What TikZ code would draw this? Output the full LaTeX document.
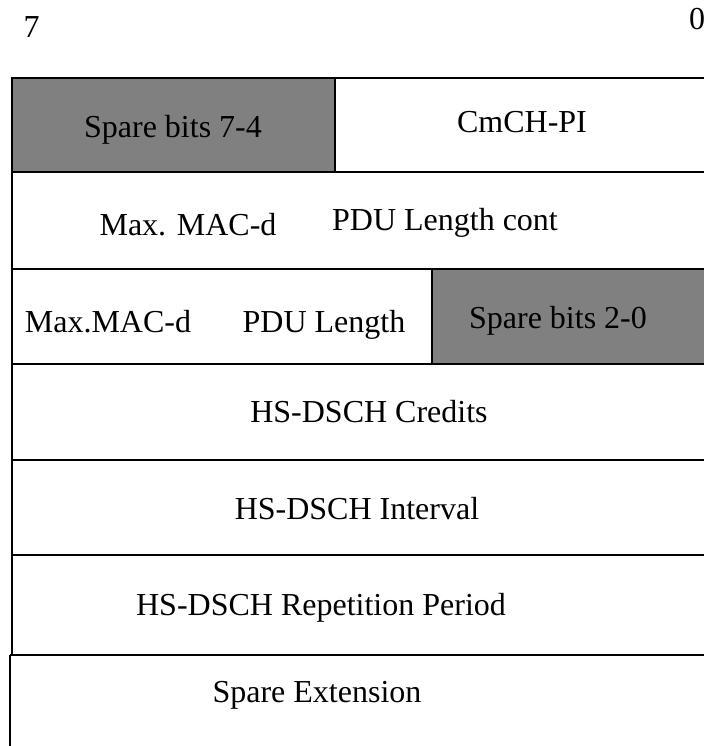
\documentclass[tikz,border=0pt]{standalone}
\usepackage{fontspec}
\setmainfont{Liberation Serif}
\definecolor{fieldgray}{RGB}{128,128,128}
\tikzset{
  lbl/.style={inner sep=0pt, anchor=base, font=\fontsize{32}{38}\selectfont},
  rule/.style={line width=2.2pt, black}
}
\begin{document}
\begin{tikzpicture}[x=1pt,y=-1pt]
\useasboundingbox (0,0) rectangle (704,746);
% shaded fields
\fill[fieldgray] (12,78) rectangle (335,172);
\fill[fieldgray] (432,269) rectangle (704,364);
% horizontal rules
\foreach \yy in {78,172,269,364,460,555} {\draw[rule] (12,\yy) -- (704,\yy);}
\draw[rule] (10,655) -- (704,655);
% left border
\draw[rule] (12,77) -- (12,655);
\draw[rule] (10,655) -- (10,746);
% vertical dividers
\draw[rule] (335,78) -- (335,172);
\draw[rule] (432,269) -- (432,364);
% labels
\node[lbl] (b7) at (31.5,38) {7};
\node[lbl] (b0) at (697,30) {0};
\node[lbl] (s74) at (173,138) {Spare bits 7-4};
\node[lbl] (cm) at (522,133) {CmCH-PI};
\node[lbl] (mm1) at (188,235) {Max. MAC-d};
\node[lbl] (pl1) at (445,230) {PDU Length cont};
\node[lbl] (mm2) at (108,332) {Max.MAC-d};
\node[lbl] (pl2) at (324,332) {PDU Length};
\node[lbl] (s20) at (558,328) {Spare bits 2-0};
\node[lbl] (cr) at (369,422) {HS-DSCH Credits};
\node[lbl] (iv) at (357,519) {HS-DSCH Interval};
\node[lbl] (rp) at (321,615) {HS-DSCH Repetition Period};
\node[lbl] (se) at (317,702) {Spare Extension};
\end{tikzpicture}
\end{document}
